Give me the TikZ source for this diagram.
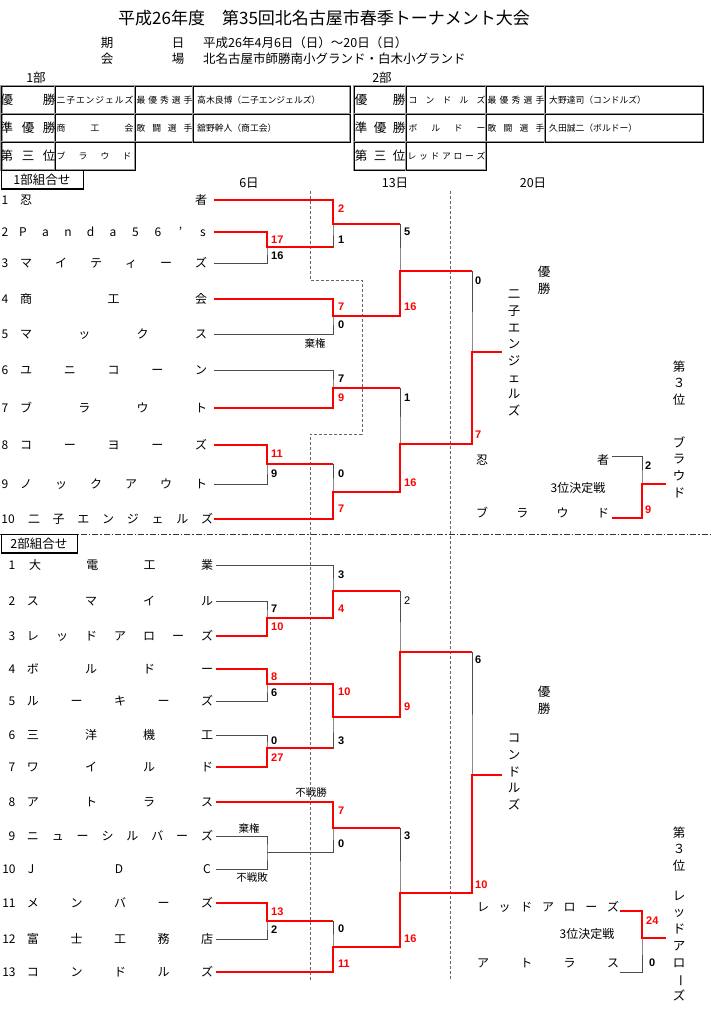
\documentclass[tikz,border=0pt]{standalone}
\usepackage{fontspec}
\setmainfont{Noto Sans CJK JP}
\newfontfamily\zahlfont{Liberation Sans}
\definecolor{rot}{RGB}{255,0,0}

% Zeichen gleichmaessig verteilen
\newcommand{\sperr}[7][team]{%
  \foreach \c [count=\i] in {#7} {
    \pgfmathsetmacro{\px}{#4+(\i-1)*(#5-#4)/#6}
    \node[#1] (#2-\i) at (\px,#3) {\c};
  }%
}

\begin{document}
\begin{tikzpicture}[x=1pt, y=-1pt,
	team/.style={inner sep=0pt, font=\fontsize{12}{13}\selectfont, text height=10.5pt, text depth=1.5pt},
	klein/.style={inner sep=0pt, font=\fontsize{8.8}{10}\selectfont, text height=7.7pt, text depth=1pt},
	kopf/.style={inner sep=0pt, font=\fontsize{12.5}{13}\selectfont, text height=11pt, text depth=1.5pt},
	zelle/.style={draw=black, line width=0.8pt, preaction={draw=black!40, line width=2.8pt}},
	gruppe/.style={draw=black, line width=0.8pt, fill=white, minimum width=82pt, minimum height=18pt, inner sep=0pt, font=\fontsize{12.5}{13}\selectfont},
	verlust/.style={draw=black!70, line width=0.8pt},
	sieg/.style={draw=rot, line width=2.6pt, line join=miter},
	pkt/.style={anchor=west, inner sep=0pt, font=\zahlfont\bfseries\fontsize{11}{12}\selectfont},
	pktrot/.style={pkt, text=rot},
	senk/.style={inner sep=0pt, align=center, font=\fontsize{12.5}{16.7}\selectfont},
	notiz/.style={inner sep=0pt, font=\fontsize{10.5}{11}\selectfont},
	tagline/.style={draw=black!60, densely dashed, line width=0.6pt}]
	\useasboundingbox (0,0) rectangle (710,1014);

	% Kopf
	\node[anchor=west, inner sep=0pt, font=\fontsize{17}{18}\selectfont] (titel) at (118,18) {平成26年度　第35回北名古屋市春季トーナメント大会};
	\node[kopf] (ki) at (107,43) {期};
	\node[kopf] (bi) at (178,43) {日};
	\node[kopf, anchor=west] (datum) at (203,43) {平成26年4月6日（日）～20日（日）};
	\node[kopf] (kai) at (107,59) {会};
	\node[kopf] (jo) at (178,59) {場};
	\node[kopf, anchor=west] (ort) at (203,59) {北名古屋市師勝南小グランド・白木小グランド};
	\node[kopf] (bu1) at (36,78) {1部};
	\node[kopf] (bu2) at (382,78) {2部};

	% Tabelle links
	\foreach \xa/\xb in {1.5/55,55/135,135/193,193/350} {
		\draw[zelle] (\xa,86) rectangle (\xb,114);
		\draw[zelle] (\xa,114) rectangle (\xb,142);
	}
	\draw[zelle] (1.5,142) rectangle (55,170);
	\draw[zelle] (55,142) rectangle (135,170);
	\sperr[kopf]{l1a}{100}{7}{49}{1}{優,勝}
	\sperr[kopf]{l2a}{128}{7}{49}{2}{準,優,勝}
	\sperr[kopf]{l3a}{156}{7}{49}{2}{第,三,位}
	\sperr[klein]{l1b}{100}{61}{129}{7}{二,子,エ,ン,ジ,ェ,ル,ズ}
	\sperr[klein]{l2b}{128}{61}{129}{2}{商,工,会}
	\sperr[klein]{l3b}{156}{61}{127}{3}{ブ,ラ,ウ,ド}
	\sperr[klein]{l1c}{100}{141}{188}{4}{最,優,秀,選,手}
	\sperr[klein]{l2c}{128}{141}{188}{3}{敢,闘,選,手}
	\node[klein, anchor=west] (l1d) at (197,100) {高木良博（二子エンジェルズ）};
	\node[klein, anchor=west] (l2d) at (197,128) {舘野幹人（商工会）};

	% Tabelle rechts
	\foreach \xa/\xb in {354/406,406/486,486/545,545/703} {
		\draw[zelle] (\xa,86) rectangle (\xb,114);
		\draw[zelle] (\xa,114) rectangle (\xb,142);
	}
	\draw[zelle] (354,142) rectangle (406,170);
	\draw[zelle] (406,142) rectangle (486,170);
	\sperr[kopf]{r1a}{100}{361}{399}{1}{優,勝}
	\sperr[kopf]{r2a}{128}{361}{399}{2}{準,優,勝}
	\sperr[kopf]{r3a}{156}{361}{399}{2}{第,三,位}
	\sperr[klein]{r1b}{100}{413}{481}{4}{コ,ン,ド,ル,ズ}
	\sperr[klein]{r2b}{128}{413}{481}{3}{ボ,ル,ド,ー}
	\sperr[klein]{r3b}{156}{412}{481}{6}{レ,ッ,ド,ア,ロ,ー,ズ}
	\sperr[klein]{r1c}{100}{492}{540}{4}{最,優,秀,選,手}
	\sperr[klein]{r2c}{128}{492}{540}{3}{敢,闘,選,手}
	\node[klein, anchor=west] (r1d) at (549,100) {大野達司（コンドルズ）};
	\node[klein, anchor=west] (r2d) at (549,128) {久田誠二（ボルドー）};

	% Spieltage
	\node[kopf] (tag1) at (249,183) {6日};
	\node[kopf] (tag2) at (395,183) {13日};
	\node[kopf] (tag3) at (533,183) {20日};
	\draw[tagline] (310,191) -- (310,280) -- (362,280) -- (362,434) -- (310,434) -- (310,980);
	\draw[tagline] (450,191) -- (450,980);
	\draw[black!80, line width=0.7pt, dash pattern=on 6pt off 2pt on 1.5pt off 2pt] (0,534) -- (710,534);

	% Gruppen
	\node[gruppe, anchor=north west] (gr1) at (0.5,170) {1部組合せ};
	\draw[line width=1.6pt] (gr1.north east) -- (gr1.south east) -- (gr1.south west);
	\node[gruppe, anchor=north west, minimum width=76pt] (gr2) at (0.5,534) {2部組合せ};
	\draw[line width=1.6pt] (gr2.north east) -- (gr2.south east) -- (gr2.south west);

	% Mannschaften 1部
	\foreach \n/\x/\y in {1/5/200, 2/5/232, 3/5/263, 4/5/299, 5/5/334, 6/5/370, 7/5/408, 8/5/445, 9/5/484, 10/8/519}
		\node[team] (nra\n) at (\x,\y) {\n};
	\sperr{ta1}{200}{26}{201}{1}{忍,者}
	\sperr{ta2}{232}{23}{203}{8}{P,a,n,d,a,5,6,’,s}
	\sperr{ta3}{263}{26}{201}{5}{マ,イ,テ,ィ,ー,ズ}
	\sperr{ta4}{299}{26}{201}{2}{商,工,会}
	\sperr{ta5}{334}{26}{201}{3}{マ,ッ,ク,ス}
	\sperr{ta6}{370}{26}{201}{4}{ユ,ニ,コ,ー,ン}
	\sperr{ta7}{408}{26}{201}{3}{ブ,ラ,ウ,ト}
	\sperr{ta8}{445}{26}{201}{4}{コ,ー,ヨ,ー,ズ}
	\sperr{ta9}{484}{26}{201}{5}{ノ,ッ,ク,ア,ウ,ト}
	\sperr{ta10}{519}{34}{207}{7}{二,子,エ,ン,ジ,ェ,ル,ズ}

	% Mannschaften 2部
	\foreach \n/\x/\y in {1/12/565, 2/12/601, 3/12/636, 4/12/669, 5/12/701, 6/12/735, 7/12/767, 8/12/802, 9/12/836, 10/9/869, 11/9/903, 12/9/939, 13/9/972}
		\node[team] (nrc\n) at (\x,\y) {\n};
	\sperr{tc1}{565}{35}{207}{3}{大,電,工,業}
	\sperr{tc2}{601}{33}{207}{3}{ス,マ,イ,ル}
	\sperr{tc3}{636}{33}{207}{6}{レ,ッ,ド,ア,ロ,ー,ズ}
	\sperr{tc4}{669}{33}{207}{3}{ボ,ル,ド,ー}
	\sperr{tc5}{701}{33}{207}{4}{ル,ー,キ,ー,ズ}
	\sperr{tc6}{735}{33}{207}{3}{三,洋,機,工}
	\sperr{tc7}{767}{33}{207}{3}{ワ,イ,ル,ド}
	\sperr{tc8}{802}{33}{207}{3}{ア,ト,ラ,ス}
	\sperr{tc9}{836}{33}{207}{7}{ニ,ュ,ー,シ,ル,バ,ー,ズ}
	\sperr{tc10}{869}{31}{207}{2}{J,D,C}
	\sperr{tc11}{903}{33}{207}{4}{メ,ン,バ,ー,ズ}
	\sperr{tc12}{939}{33}{207}{4}{富,士,工,務,店}
	\sperr{tc13}{972}{33}{207}{4}{コ,ン,ド,ル,ズ}

	% Linien 1部
	\foreach \n/\y in {1/200, 2/232, 3/263, 4/299, 5/334, 6/370, 7/408, 8/445, 9/484, 10/519}
		\coordinate (a\n) at (214,\y);
	\coordinate (b1m1) at (267,247);
	\coordinate (b1m2) at (333,224);
	\coordinate (b1m3) at (333,316);
	\coordinate (b1m4) at (400,271);
	\coordinate (b1m5) at (333,388);
	\coordinate (b1m6) at (267,464);
	\coordinate (b1m7) at (333,492);
	\coordinate (b1m8) at (400,444);
	\coordinate (b1m9) at (472,352);
	\coordinate (b1sieg) at (502,352);
	\draw[verlust] (a2) -| (b1m1) |- (a3);
	\draw[verlust] (a1) -| (b1m2) |- (b1m1);
	\draw[verlust] (a4) -| (b1m3) |- (a5);
	\draw[verlust] (b1m2) -| (b1m4) |- (b1m3);
	\draw[verlust] (a6) -| (b1m5) |- (a7);
	\draw[verlust] (a8) -| (b1m6) |- (a9);
	\draw[verlust] (b1m6) -| (b1m7) |- (a10);
	\draw[verlust] (b1m5) -| (b1m8) |- (b1m7);
	\draw[verlust] (b1m4) -| (b1m9) |- (b1m8);
	\draw[sieg] (a2) -| (b1m1) -- (b1m1 -| b1m2);
	\draw[sieg] (a1) -| (b1m2) -- (b1m2 -| b1m4);
	\draw[sieg] (a4) -| (b1m3) -| (b1m4) -- (b1m4 -| b1m9);
	\draw[sieg] (a7) -| (b1m5) -- (b1m5 -| b1m8);
	\draw[sieg] (a8) -| (b1m6) -- (b1m6 -| b1m7);
	\draw[sieg] (a10) -| (b1m7) -| (b1m8) -| (b1m9) -- (b1sieg);

	% Linien 2部
	\foreach \n/\y in {1/565, 2/601, 3/636, 4/669, 5/701, 6/735, 7/767, 8/802, 9/836, 10/869, 11/903, 12/939, 13/972}
		\coordinate (c\n) at (216,\y);
	\coordinate (b2m1) at (267,618);
	\coordinate (b2m2) at (267,684);
	\coordinate (b2m3) at (267,748);
	\coordinate (b2m4) at (333,591);
	\coordinate (b2m5) at (333,717);
	\coordinate (b2m6) at (400,652);
	\coordinate (b2m7) at (267,852);
	\coordinate (b2m8) at (333,828);
	\coordinate (b2m9) at (267,921);
	\coordinate (b2m10) at (333,947);
	\coordinate (b2m11) at (400,893);
	\coordinate (b2m12) at (472,775);
	\coordinate (b2sieg) at (502,775);
	\draw[verlust] (c2) -| (b2m1) |- (c3);
	\draw[verlust] (c4) -| (b2m2) |- (c5);
	\draw[verlust] (c6) -| (b2m3) |- (c7);
	\draw[verlust] (c1) -| (b2m4) |- (b2m1);
	\draw[verlust] (b2m2) -| (b2m5) |- (b2m3);
	\draw[verlust] (b2m4) -| (b2m6) |- (b2m5);
	\draw[verlust] (c9) -| (b2m7) |- (c10);
	\draw[verlust] (c8) -| (b2m8) |- (b2m7);
	\draw[verlust] (c11) -| (b2m9) |- (c12);
	\draw[verlust] (b2m9) -| (b2m10) |- (c13);
	\draw[verlust] (b2m8) -| (b2m11) |- (b2m10);
	\draw[verlust] (b2m6) -| (b2m12) |- (b2m11);
	\draw[sieg] (c3) -| (b2m1) -| (b2m4) -- (b2m4 -| b2m6);
	\draw[sieg] (c4) -| (b2m2) -| (b2m5) -| (b2m6) -- (b2m6 -| b2m12);
	\draw[sieg] (c7) -| (b2m3) -- (b2m3 -| b2m5);
	\draw[sieg] (c8) -| (b2m8) -- (b2m8 -| b2m11);
	\draw[sieg] (c11) -| (b2m9) -- (b2m9 -| b2m10);
	\draw[sieg] (c13) -| (b2m10) -| (b2m11) -| (b2m12) -- (b2sieg);

	% Notizen
	\node[notiz] (kiken1) at (315,343) {棄権};
	\node[notiz] (fusen1) at (311,793) {不戦勝};
	\node[notiz] (kiken2) at (249,828) {棄権};
	\node[notiz] (fusen2) at (252,878) {不戦敗};

	% 3位決定戦 1部
	\sperr{td1}{460}{482}{603}{1}{忍,者}
	\sperr{td2}{513}{482}{603}{3}{ブ,ラ,ウ,ド}
	\node[team] (dk1) at (578,488) {3位決定戦};
	\coordinate (d1) at (612,456);
	\coordinate (d2) at (612,518);
	\coordinate (b1p) at (642,484);
	\coordinate (b1drit) at (666,484);
	\draw[verlust] (d1) -| (b1p) |- (d2);
	\draw[sieg] (d2) -| (b1p) -- (b1drit);

	% 3位決定戦 2部
	\sperr{te1}{907}{483}{613}{6}{レ,ッ,ド,ア,ロ,ー,ズ}
	\sperr{te2}{963}{483}{613}{3}{ア,ト,ラ,ス}
	\node[team] (dk2) at (587,934) {3位決定戦};
	\coordinate (e1) at (620,911);
	\coordinate (e2) at (620,972);
	\coordinate (b2p) at (642,938);
	\coordinate (b2drit) at (666,938);
	\draw[verlust] (e1) -| (b2p) |- (e2);
	\draw[sieg] (e1) -| (b2p) -- (b2drit);

	% Ergebnisse senkrecht
	\node[senk] (sieger1) at (514,353) {二\\子\\エ\\ン\\ジ\\ェ\\ル\\ズ};
	\node[senk] (yu1) at (544,280) {優\\勝};
	\node[senk] (dri1) at (679,383) {第\\３\\位};
	\node[senk] (drn1) at (679,467) {ブ\\ラ\\ウ\\ド};
	\node[senk] (sieger2) at (514,772) {コ\\ン\\ド\\ル\\ズ};
	\node[senk] (yu2) at (544,700) {優\\勝};
	\node[senk] (dri2) at (679,849) {第\\３\\位};
	\node[senk] (drn2) at (679,946) {レ\\ッ\\ド\\ア\\ロ\\\rotatebox[origin=c]{-90}{ー}\\ズ};

	% Spielstaende
	\foreach \x/\y/\p [count=\i] in {271/240/17, 338/209/2, 338/307/7, 404/307/16, 338/398/9, 271/454/11, 338/509/7, 404/483/16, 475/435/7, 645/510/9,
		271/627/10, 271/677/8, 271/758/27, 338/609/4, 338/692/10, 404/707/9, 338/811/7, 271/912/13, 338/964/11, 404/939/16, 475/885/10, 646/921/24}
		\node[pktrot] (rot\i) at (\x,\y) {\p};
	\foreach \x/\y/\p [count=\i] in {271/256/16, 338/240/1, 338/325/0, 404/232/5, 338/379/7, 271/474/9, 338/474/0, 404/398/1, 475/281/0, 645/466/2,
		271/609/7, 271/693/6, 271/741/0, 338/575/3, 338/741/3, 338/844/0, 271/930/2, 338/929/0, 404/836/3, 475/660/6, 649/963/0}
		\node[pkt] (sw\i) at (\x,\y) {\p};
	\node[pkt, font=\zahlfont\fontsize{11}{12}\selectfont] (sw22) at (404,601) {2};
\end{tikzpicture}
\end{document}
